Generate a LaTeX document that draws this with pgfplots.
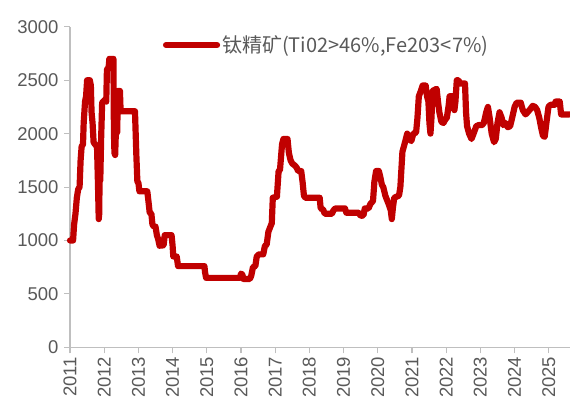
\documentclass[border=0pt]{standalone}
\usepackage{pgfplots}
\pgfplotsset{compat=1.18}
\usepackage{fontspec}
\setmainfont{Liberation Sans}
\newfontfamily\cjk{Noto Sans CJK SC}
\definecolor{linered}{RGB}{192,0,0}
\definecolor{axgray}{RGB}{191,191,191}
\definecolor{txtgray}{RGB}{89,89,89}
\begin{document}
\begin{tikzpicture}
\begin{axis}[
  name=ax,
  scale only axis,
  width=500pt, height=320.5pt,
  xmin=2011, xmax=2025.62,
  ymin=0, ymax=3000,
  axis x line=bottom, axis y line=left,
  axis line style={-, draw=axgray, line width=1.1pt},
  tick style={draw=axgray, line width=1.1pt},
  tick align=outside,
  major tick length=6pt,
  xtick={2011,2012,...,2025},
  ytick={0,500,...,3000},
  /pgf/number format/1000 sep={},
  /pgf/number format/assume math mode=true,
  ticklabel style={font=\fontsize{18.5}{20}\selectfont, text=txtgray},
  xticklabel style={rotate=90, anchor=east, xshift=0pt},
  yticklabel style={xshift=-2pt},
  legend style={at={(0.1855,0.943)}, anchor=west, draw=none, fill=none,
    inner sep=0pt, font=\cjk\fontsize{20}{22}\selectfont, text=txtgray,
    nodes={inner sep=2pt}},
  legend image code/.code={\draw[#1, line cap=round] (0pt,0pt) -- (51pt,0pt);},
  clip=false,
]
\addplot[color=linered, line width=6.2pt, line join=round, line cap=round] coordinates {
(2011.00,1000) (2011.09,1000) (2011.12,1150) (2011.16,1250) (2011.20,1400) (2011.24,1480)
(2011.28,1500) (2011.31,1750) (2011.34,1880) (2011.38,1900) (2011.40,2100) (2011.44,2300)
(2011.47,2350) (2011.50,2500) (2011.58,2500) (2011.61,2450) (2011.63,2200) (2011.66,2100)
(2011.69,1920) (2011.73,1900) (2011.79,1880) (2011.82,1500) (2011.84,1200) (2011.855,1250)
(2011.87,1800) (2011.885,1560) (2011.91,1950) (2011.94,2290) (2012.03,2320) (2012.06,2300)
(2012.08,2600) (2012.13,2620) (2012.15,2700) (2012.27,2700) (2012.285,2000) (2012.30,1820)
(2012.32,1800) (2012.34,2000) (2012.38,2010) (2012.40,2400) (2012.46,2400) (2012.48,2210)
(2012.90,2210) (2012.94,1800) (2012.97,1550) (2013.00,1540) (2013.03,1460) (2013.26,1460)
(2013.30,1350) (2013.33,1260) (2013.38,1250) (2013.41,1150) (2013.45,1130) (2013.50,1130)
(2013.54,1050) (2013.58,1010) (2013.62,950) (2013.66,1000) (2013.70,950) (2013.74,960)
(2013.77,1050) (2013.97,1050) (2014.00,950) (2014.02,850) (2014.12,850) (2014.16,760)
(2014.93,760) (2014.95,700) (2014.98,650) (2015.97,650) (2016.00,690) (2016.04,680)
(2016.07,640) (2016.26,640) (2016.30,670) (2016.35,750) (2016.42,760) (2016.46,850)
(2016.52,870) (2016.65,870) (2016.70,950) (2016.75,960) (2016.80,1080) (2016.86,1130)
(2016.90,1160) (2016.93,1400) (2017.05,1410) (2017.10,1650) (2017.14,1660) (2017.20,1900)
(2017.24,1950) (2017.36,1950) (2017.40,1820) (2017.45,1750) (2017.50,1720) (2017.58,1700)
(2017.63,1680) (2017.67,1650) (2017.76,1650) (2017.80,1550) (2017.84,1420) (2017.88,1400)
(2018.30,1400) (2018.33,1300) (2018.40,1290) (2018.45,1250) (2018.66,1250) (2018.70,1280)
(2018.76,1300) (2019.04,1300) (2019.08,1260) (2019.44,1260) (2019.50,1230) (2019.58,1235)
(2019.62,1300) (2019.73,1300) (2019.78,1340) (2019.86,1370) (2019.90,1550) (2019.95,1650)
(2020.03,1650) (2020.07,1600) (2020.12,1520) (2020.16,1500) (2020.22,1420) (2020.28,1370)
(2020.33,1330) (2020.38,1280) (2020.41,1200) (2020.44,1300) (2020.48,1400) (2020.55,1410)
(2020.62,1420) (2020.66,1500) (2020.72,1830) (2020.78,1900) (2020.86,2000) (2020.92,1950)
(2020.98,1930) (2021.04,2000) (2021.12,2010) (2021.16,2150) (2021.20,2350) (2021.26,2400)
(2021.31,2450) (2021.40,2450) (2021.44,2350) (2021.48,2300) (2021.51,2100) (2021.54,2000)
(2021.57,2150) (2021.60,2400) (2021.72,2420) (2021.76,2300) (2021.80,2200) (2021.86,2110)
(2021.92,2100) (2021.97,2130) (2022.02,2150) (2022.07,2260) (2022.10,2350) (2022.20,2350)
(2022.24,2220) (2022.27,2300) (2022.31,2500) (2022.36,2500) (2022.40,2470) (2022.55,2470)
(2022.58,2200) (2022.61,2070) (2022.67,2000) (2022.74,1950) (2022.80,2000) (2022.88,2070)
(2022.95,2080) (2023.05,2080) (2023.10,2100) (2023.17,2200) (2023.22,2250) (2023.27,2150)
(2023.33,2000) (2023.40,1920) (2023.45,1950) (2023.50,2100) (2023.56,2200) (2023.62,2150)
(2023.67,2080) (2023.73,2100) (2023.80,2060) (2023.87,2070) (2023.93,2150) (2024.00,2250)
(2024.06,2290) (2024.18,2290) (2024.24,2220) (2024.32,2180) (2024.38,2200) (2024.46,2230)
(2024.53,2260) (2024.60,2250) (2024.66,2220) (2024.72,2150) (2024.78,2050) (2024.83,1980)
(2024.88,1970) (2024.93,2100) (2024.99,2250) (2025.05,2270) (2025.17,2270) (2025.20,2300)
(2025.32,2300) (2025.36,2180) (2025.60,2180)
};
\addlegendentry{钛精矿(Ti02>46\%,Fe203<7\%)}
\end{axis}
\pgfresetboundingbox
\path[use as bounding box] ([xshift=-70pt,yshift=-57.7pt]ax.south west) rectangle ([xshift=500pt,yshift=347.3pt]ax.south west);
\end{tikzpicture}
\end{document}
